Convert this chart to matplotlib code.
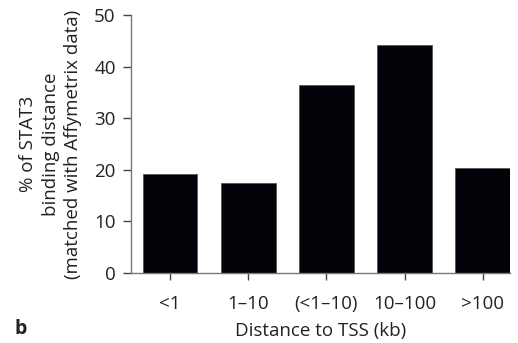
import numpy as np
import matplotlib
matplotlib.use('Agg')
import matplotlib.pyplot as plt

plt.rcParams['font.family'] = ['Open Sans', 'DejaVu Sans']

categories = ['<1', '1–10', '(<1–10)', '10–100', '>100']
values = [19.2, 17.5, 36.4, 44.2, 20.3]
yticks = [0, 10, 20, 30, 40, 50]

fig = plt.figure(figsize=(5.18, 3.43), dpi=100)
ax = fig.add_axes([0.2529, 0.204, 0.7317, 0.752])

x = np.arange(len(categories))
ax.bar(x, values, width=0.7, color='#020208', edgecolor='#555555', linewidth=0.6)

ax.set_xlim(-0.5, 4.35)
ax.set_ylim(0, 50)
ax.set_xticks(x)
ax.set_xticklabels(categories, fontsize=13.5, color='#222222')
ax.set_yticks(yticks)
ax.set_yticklabels([str(v) for v in yticks], fontsize=13.5, color='#222222')

for side in ['top', 'right']:
    ax.spines[side].set_visible(False)
for side in ['left', 'bottom']:
    ax.spines[side].set_color('#777777')
    ax.spines[side].set_linewidth(1.0)
ax.tick_params(axis='y', length=6, width=1.0, color='#444444', pad=5)
ax.tick_params(axis='x', length=5, width=1.0, color='#444444', pad=11)

ax.set_xlabel('Distance to TSS (kb)', fontsize=13.5, color='#222222', labelpad=6)
ax.set_ylabel('% of STAT3\nbinding distance\n(matched with Affymetrix data)',
              fontsize=13.5, color='#222222', labelpad=9, linespacing=1.3)

fig.text(0.028, 0.025, 'b', fontsize=14, fontweight='bold', color='#222222')

fig.savefig('out.png', dpi=100)
